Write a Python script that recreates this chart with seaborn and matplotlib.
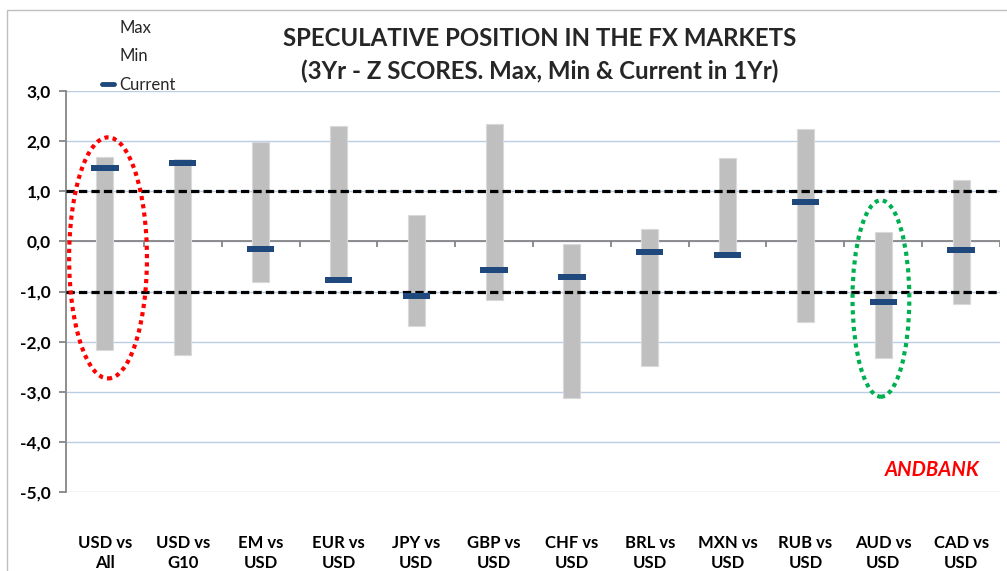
import numpy as np
import pandas as pd
import matplotlib
matplotlib.use("Agg")
import matplotlib.pyplot as plt
import seaborn as sns
from matplotlib.patches import Ellipse, Rectangle
from matplotlib.lines import Line2D
from matplotlib.ticker import FuncFormatter, FixedLocator

categories = ["USD vs\nAll", "USD vs\nG10", "EM vs\nUSD", "EUR vs\nUSD", "JPY vs\nUSD",
              "GBP vs\nUSD", "CHF vs\nUSD", "BRL vs\nUSD", "MXN vs\nUSD", "RUB vs\nUSD",
              "AUD vs\nUSD", "CAD vs\nUSD"]
max_vals = [1.68, 1.65, 1.98, 2.30, 0.52, 2.35, -0.06, 0.25, 1.67, 2.25, 0.18, 1.22]
min_vals = [-2.17, -2.27, -0.81, -0.80, -1.68, -1.16, -3.12, -2.49, -0.25, -1.60, -2.33, -1.25]
current_vals = [1.46, 1.56, -0.15, -0.77, -1.08, -0.58, -0.71, -0.21, -0.28, 0.78, -1.20, -0.18]
y_ticks = [3, 2, 1, 0, -1, -2, -3, -4, -5]
band_levels = [1.0, -1.0]

sns.set_theme(style="white")
plt.rcParams['font.family'] = ['Lato', 'DejaVu Sans']

df = pd.DataFrame({"cat": categories, "max": max_vals, "min": min_vals, "cur": current_vals})
df["range"] = df["max"] - df["min"]
cur_h = 0.12
df["cur_h"] = cur_h

W, H = 1007, 571
fig = plt.figure(figsize=(W / 100, H / 100), dpi=100)
ax = fig.add_axes([66 / W, 1 - 492 / H, (1000 - 66) / W, (492 - 91) / H])

# gridlines
for t in y_ticks:
    ax.axhline(t, color="#B9CDE5", lw=1.0, zorder=0)

sns.barplot(data=df, x="cat", y="range", order=categories, bottom=df["min"].to_numpy(),
            color="#BFBFBF", saturation=1, width=0.22, edgecolor="#D9D9D9", linewidth=0.8,
            ax=ax, zorder=2)
sns.barplot(data=df, x="cat", y="cur_h", order=categories,
            bottom=(df["cur"] - cur_h / 2).to_numpy(),
            color="#1F497D", saturation=1, width=0.35, linewidth=0, ax=ax, zorder=4)

# zero axis with category ticks
ax.axhline(0, color="#868686", lw=1.3, zorder=1)
n = len(categories)
ax.vlines(np.arange(n) + 0.5, -0.12, 0, color="#868686", lw=1.3, zorder=1)

# dashed band lines
for lv in band_levels:
    ax.axhline(lv, color="black", lw=2.3, linestyle=(0, (2.6, 1.3)), zorder=3)

# highlight ellipses
ax.add_patch(Ellipse((0.04, -0.33), width=1.0, height=4.81, fill=False, edgecolor="#FF0000",
                     lw=3.0, linestyle=(0, (1, 1)), zorder=5))
ax.add_patch(Ellipse((9.97, -1.14), width=0.73, height=3.92, fill=False, edgecolor="#00B050",
                     lw=3.0, linestyle=(0, (1, 1)), zorder=5))

ax.set_xlim(-0.5, n - 0.5)
ax.set_ylim(-5, 3)
ax.yaxis.set_major_locator(FixedLocator(y_ticks))
ax.yaxis.set_major_formatter(FuncFormatter(lambda v, p: f"{v:.1f}".replace(".", ",")))
ax.set_xlabel("")
ax.set_ylabel("")
for s in ["top", "right", "bottom"]:
    ax.spines[s].set_visible(False)
ax.spines["left"].set_color("#868686")
ax.spines["left"].set_linewidth(1.3)
ax.tick_params(axis="y", direction="out", length=5, width=1.3, color="#868686", left=True,
               pad=6, labelsize=12.5, labelcolor="black")
ax.tick_params(axis="x", length=0, pad=31, labelsize=12, labelcolor="black")
for lab in ax.get_yticklabels():
    lab.set_fontweight("bold")
for lab in ax.get_xticklabels():
    lab.set_fontweight("bold")
    lab.set_linespacing(1.3)

ax.text((980 - 66) / (1000 - 66), 0.055, "ANDBANK", transform=ax.transAxes, color="#FF0000",
        fontsize=14.5, fontweight="bold", fontstyle="italic", ha="right", va="center")

fig.text(540 / W, 1 - 38 / H, "SPECULATIVE POSITION IN THE FX MARKETS", ha="center",
         va="center", fontsize=17.3, fontweight="bold")
fig.text(540 / W, 1 - 71 / H, "(3Yr - Z SCORES. Max, Min & Current in 1Yr)", ha="center",
         va="center", fontsize=17.3, fontweight="bold")

handles = [Line2D([], [], color="none"), Line2D([], [], color="none"),
           Line2D([], [], color="#1F497D", lw=3.5)]
fig.legend(handles, ["Max", "Min", "Current"], loc="upper left",
           bbox_to_anchor=(95 / W, 1 - 13 / H), frameon=False, fontsize=12,
           handlelength=0.75, handletextpad=0.3, labelspacing=0.75, borderaxespad=0)

fig.patches.append(Rectangle((7 / W, -0.01), 1.0, 1 - 10 / H + 0.01, transform=fig.transFigure,
                             fill=False, edgecolor="#BFBFBF", lw=1.0))

fig.savefig("out.png", dpi=100)
